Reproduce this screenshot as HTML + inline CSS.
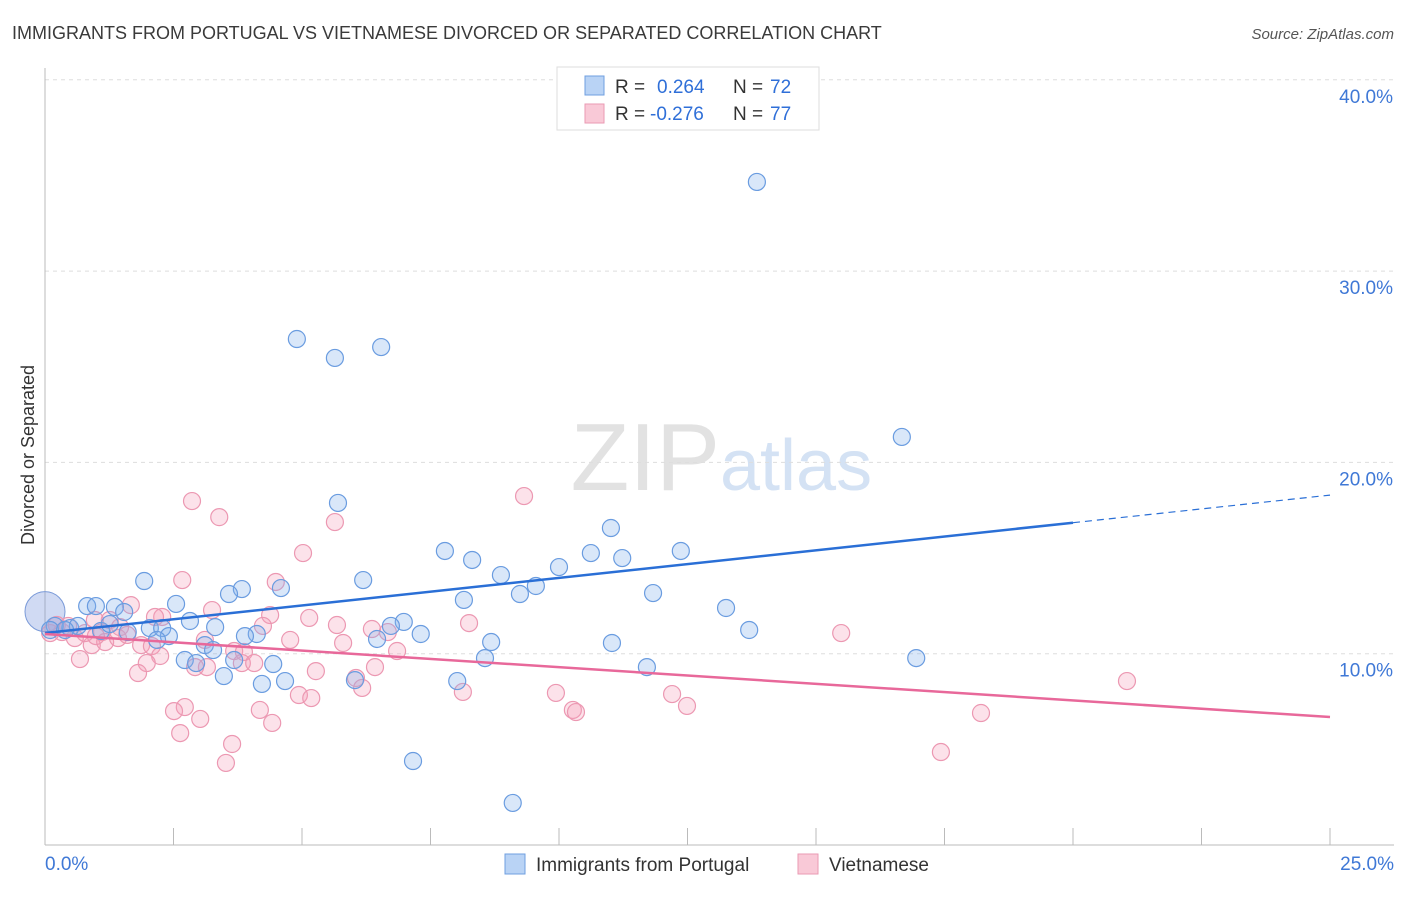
<!DOCTYPE html>
<html><head><meta charset="utf-8"><style>
body{margin:0;background:#fff;font-family:"Liberation Sans",sans-serif}
svg text{font-family:"Liberation Sans",sans-serif}
</style></head><body>
<svg id="c" width="1406" height="892">
<text x="12" y="39" font-size="18" fill="#3a3a3a">IMMIGRANTS FROM PORTUGAL VS VIETNAMESE DIVORCED OR SEPARATED CORRELATION CHART</text>
<text x="1394" y="39" font-size="15" fill="#555" font-style="italic" text-anchor="end">Source: ZipAtlas.com</text>
<text x="720" y="490" font-size="96" fill="#e2e2e2" text-anchor="end" font-family="Liberation Serif">ZIP</text>
<text x="720" y="490" font-size="72" fill="#d4e2f4">atlas</text>
<text transform="translate(34,455) rotate(-90)" font-size="18" fill="#333" text-anchor="middle">Divorced or Separated</text>
<g id="grid"></g><g id="pts"></g><g id="lines"></g>
<g>
<rect x="557" y="67" width="262" height="63" fill="#fff" stroke="#ddd"/>
<rect x="585" y="76" width="19" height="19" fill="#b9d3f5" stroke="#6f9fe0"/>
<rect x="585" y="104" width="19" height="19" fill="#f9c9d7" stroke="#ea9ab3"/>
<text x="615" y="93" font-size="19" fill="#333">R = </text><text x="657" y="93" font-size="19" fill="#2f6fd8">0.264</text>
<text x="733" y="93" font-size="19" fill="#333">N = </text><text x="770" y="93" font-size="19" fill="#2f6fd8">72</text>
<text x="615" y="120" font-size="19" fill="#333">R = </text><text x="650" y="120" font-size="19" fill="#2f6fd8">-0.276</text>
<text x="733" y="120" font-size="19" fill="#333">N = </text><text x="770" y="120" font-size="19" fill="#2f6fd8">77</text>
</g>
<g>
<rect x="505" y="854" width="20" height="20" fill="#b9d3f5" stroke="#6f9fe0"/>
<text x="536" y="871" font-size="19" fill="#333">Immigrants from Portugal</text>
<rect x="798" y="854" width="20" height="20" fill="#f9c9d7" stroke="#ea9ab3"/>
<text x="829" y="871" font-size="19" fill="#333">Vietnamese</text>
</g>
</svg>
<script>
const blueX=[13.85,4.90,5.64,6.54,16.67,5.70,11.01,7.78,12.37,8.31,10.62,11.23,10.00,8.87,6.19,1.93,9.55,3.83,4.59,3.58,9.24,11.83,8.15,0.82,0.99,2.55,1.36,13.25,1.54,2.82,6.98,6.73,3.31,2.04,2.28,6.46,4.12,3.89,7.31,8.68,11.03,13.70,2.41,2.18,3.11,3.27,1.61,1.09,0.49,0.19,0.64,0.10,8.56,2.72,2.94,16.95,3.68,4.44,11.71,3.48,4.22,4.67,6.03,8.02,7.16,9.10,1.26,0.39];
const blueY=[34.66,26.45,25.46,26.03,21.33,17.88,16.57,15.37,15.37,14.90,15.26,15.00,14.53,14.11,13.85,13.80,13.54,13.38,13.43,13.12,13.12,13.17,12.81,12.49,12.49,12.60,12.44,12.39,12.18,11.71,11.66,11.45,11.39,11.34,11.34,10.77,11.03,10.92,11.03,10.61,10.56,11.24,10.92,10.72,10.45,10.19,11.13,11.19,11.34,11.45,11.45,11.24,9.77,9.67,9.51,9.77,9.67,9.46,9.30,8.83,8.42,8.57,8.62,8.57,4.39,2.20,11.55,11.24];
const pinkX=[9.32,2.86,3.39,5.64,5.02,2.67,4.49,3.25,1.67,2.28,2.14,1.26,4.38,5.14,5.68,8.25,4.24,6.36,6.67,15.49,1.11,0.33,0.58,0.91,1.17,1.87,1.42,2.08,3.68,3.87,5.80,6.85,3.83,2.24,1.98,3.15,2.92,4.07,5.27,6.42,0.68,1.81,6.05,6.17,21.05,8.13,9.94,12.20,12.49,10.27,10.33,18.21,2.72,2.51,3.02,4.18,4.42,4.94,5.18,2.63,3.64,3.52,17.43,0.10,0.23,0.45,0.78,0.99,1.46,1.60,0.97,4.77,3.11];
const pinkY=[18.24,17.98,17.14,16.88,15.26,13.85,13.75,12.28,12.54,11.92,11.92,11.76,12.02,11.87,11.50,11.60,11.45,11.29,11.13,11.08,11.13,11.13,10.82,10.45,10.61,10.45,10.82,10.40,10.14,10.09,10.56,10.14,9.51,9.88,9.51,9.30,9.30,9.51,9.09,9.30,9.72,8.99,8.73,8.21,8.57,8.00,7.95,7.89,7.27,7.06,6.95,6.90,7.21,7.00,6.59,7.06,6.38,7.84,7.68,5.85,5.28,4.29,4.86,11.08,11.50,11.45,11.08,10.92,11.39,10.98,11.76,10.72,10.72];
const yTicks=[10,20,30,40];
const yTickLabels=["10.0%","20.0%","30.0%","40.0%"];
const xTickLabels=["0.0%","25.0%"];
const blueTrend=[11.08,18.29];
const pinkTrend=[11.03,6.69];
const NS='http://www.w3.org/2000/svg';
const X0=45,X1=1330,Y0=845;
const sx=v=>X0+(v/25)*(X1-X0);
const sy=v=>Y0-v*19.13;
function mk(tag,at,parent){const e=document.createElementNS(NS,tag);for(const k in at)e.setAttribute(k,at[k]);parent.appendChild(e);return e;}
const grid=document.getElementById('grid'),pts=document.getElementById('pts'),lines=document.getElementById('lines');
yTicks.forEach((t,i)=>{
 const l=mk('line',{x1:X0,x2:1394,y1:sy(t),y2:sy(t),stroke:'#ddd','stroke-dasharray':'4,4'},grid);
 
 
 const tx=mk('text',{x:1393,y:sy(t)+23,'font-size':19,fill:'#3f78d6','text-anchor':'end'},grid);
 tx.textContent=yTickLabels[i];
 
 
});
let ax=mk('line',{x1:X0,x2:X0,y1:68,y2:Y0,stroke:'#bbb'},grid);


ax=mk('line',{x1:X0,x2:1394,y1:Y0,y2:Y0,stroke:'#bbb'},grid);


for(let i=0;i<=10;i++){const t=mk('line',{x1:sx(i*2.5),x2:sx(i*2.5),y1:Y0,y2:Y0-17,stroke:'#bbb'},grid);
 
 }
xTickLabels.forEach((s,i)=>{const t=mk('text',{x:i?1394:45,y:870,'font-size':19,fill:'#3f78d6','text-anchor':i?'end':'start'},grid);t.textContent=s;
 
 });
let big=mk('circle',{cx:sx(0),cy:sy(12.2),r:20,fill:'rgba(120,150,220,0.35)',stroke:'#7a9ad8'},pts);


pinkX.forEach((v,i)=>{const c=mk('circle',{cx:sx(v),cy:sy(pinkY[i]),r:8.5,fill:'rgba(244,160,185,0.3)',stroke:'#ec98b2','stroke-width':1.2},pts);
 
 });
blueX.forEach((v,i)=>{const c=mk('circle',{cx:sx(v),cy:sy(blueY[i]),r:8.5,fill:'rgba(130,175,235,0.3)',stroke:'#6a9ce0','stroke-width':1.2},pts);
 
 });
const by=x=>blueTrend[0]+(blueTrend[1]-blueTrend[0])*x/25;
let l=mk('line',{x1:sx(0),y1:sy(by(0)),x2:sx(20),y2:sy(by(20)),stroke:'#2a6fd6','stroke-width':2.5},lines);


l=mk('line',{x1:sx(20),y1:sy(by(20)),x2:sx(25),y2:sy(by(25)),stroke:'#2a6fd6','stroke-width':1.2,'stroke-dasharray':'7,5'},lines);


l=mk('line',{x1:sx(0),y1:sy(pinkTrend[0]),x2:sx(25),y2:sy(pinkTrend[1]),stroke:'#e8689a','stroke-width':2.5},lines);


</script>
</body></html>
